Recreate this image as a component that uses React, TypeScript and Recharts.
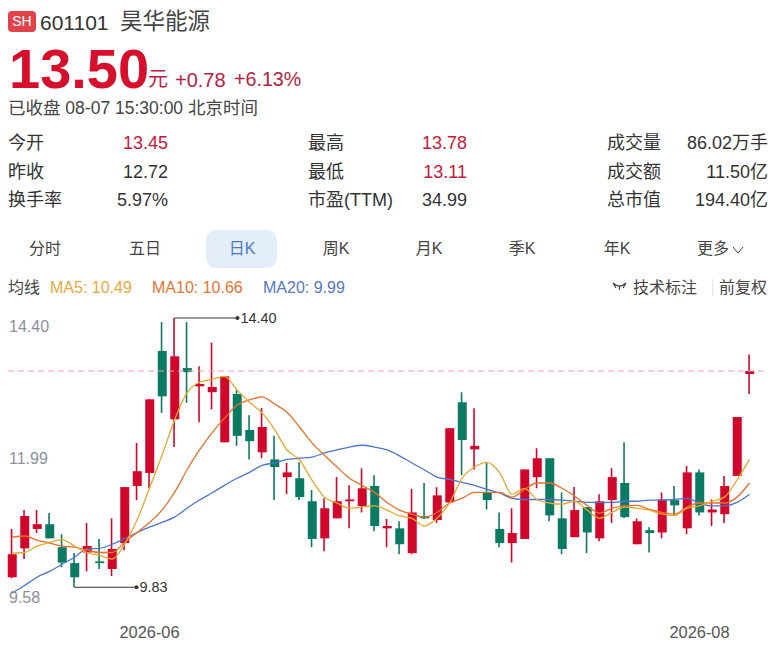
import { Bar, Cell, ComposedChart, Line, ReferenceDot, ReferenceLine, XAxis, YAxis } from 'recharts';

const FONT = '"Liberation Sans", "Noto Sans CJK SC", sans-serif';
const RED = '#D0062A';
const GREEN = '#0B7A63';

const dates = [
  '2026-05-15', '2026-05-18', '2026-05-19', '2026-05-20', '2026-05-21', '2026-05-22', '2026-05-25', '2026-05-26', '2026-05-27', '2026-05-28', '2026-05-29',
  '2026-06-01', '2026-06-02', '2026-06-03', '2026-06-04', '2026-06-05', '2026-06-08', '2026-06-09', '2026-06-10', '2026-06-11', '2026-06-12',
  '2026-06-15', '2026-06-16', '2026-06-17', '2026-06-18', '2026-06-22', '2026-06-23', '2026-06-24', '2026-06-25', '2026-06-26', '2026-06-29', '2026-06-30',
  '2026-07-01', '2026-07-02', '2026-07-03', '2026-07-06', '2026-07-07', '2026-07-08', '2026-07-09', '2026-07-10', '2026-07-13', '2026-07-14', '2026-07-15', '2026-07-16', '2026-07-17',
  '2026-07-20', '2026-07-21', '2026-07-22', '2026-07-23', '2026-07-24', '2026-07-27', '2026-07-28', '2026-07-29', '2026-07-30', '2026-07-31',
  '2026-08-03', '2026-08-04', '2026-08-05', '2026-08-06', '2026-08-07',
];
const opens = [
  10.0, 10.49, 10.82, 10.9, 10.51, 10.24, 10.42, 10.27, 10.14, 10.58, 11.55, 11.77, 13.84, 12.68, 13.55, 13.24, 13.14, 12.29, 13.11, 12.5,
  12.12, 12.0, 11.7, 11.68, 11.29, 10.66, 11.0, 11.29, 11.21, 11.55, 10.83, 10.83, 10.41, 11.04, 10.97, 11.27, 12.97, 12.17, 11.44, 10.82,
  10.58, 10.65, 11.7, 12.02, 11.0, 10.68, 11.19, 10.66, 11.31, 11.6, 10.56, 10.8, 10.76, 11.31, 10.83, 11.78, 11.1, 11.07, 11.72, 13.45,
];
const closes = [
  10.39, 11.04, 10.9, 10.66, 10.25, 10.0, 10.53, 10.24, 10.48, 11.53, 11.8, 13.02, 13.07, 13.75, 13.48, 13.28, 13.23, 13.41, 12.4, 12.31,
  12.55, 11.87, 11.78, 11.36, 10.65, 11.17, 11.29, 11.32, 11.51, 10.87, 10.87, 10.56, 11.1, 11.0, 11.39, 12.53, 12.33, 12.23, 11.31, 10.58,
  10.75, 11.83, 12.02, 11.05, 10.48, 11.14, 10.76, 11.29, 11.7, 11.02, 10.95, 10.75, 11.32, 11.22, 11.78, 11.1, 11.15, 11.55, 12.72, 13.5,
];
const highs = [
  10.82, 11.14, 11.14, 11.09, 10.73, 10.41, 10.92, 10.65, 11.0, 11.53, 12.28, 13.02, 14.33, 14.4, 14.33, 13.58, 13.98, 13.41, 13.18, 12.75,
  12.87, 12.4, 11.94, 11.95, 11.48, 11.34, 11.7, 11.56, 11.85, 11.73, 10.99, 10.95, 11.5, 11.6, 11.53, 12.53, 13.14, 12.87, 11.95, 11.1,
  11.17, 11.83, 12.19, 12.02, 11.44, 11.53, 11.19, 11.41, 11.85, 12.29, 11.0, 10.85, 11.44, 11.55, 11.89, 11.83, 11.32, 11.72, 12.72, 13.78,
];
const lows = [
  9.98, 10.31, 10.75, 10.66, 10.17, 9.83, 10.1, 10.14, 10.02, 10.46, 11.31, 11.51, 12.79, 12.21, 12.96, 12.63, 12.85, 12.29, 12.23, 12.0,
  12.02, 11.31, 11.41, 11.31, 10.51, 10.44, 11.0, 10.83, 11.1, 10.78, 10.51, 10.39, 10.39, 10.99, 10.92, 11.27, 11.73, 11.83, 11.15, 10.51,
  10.25, 10.65, 11.51, 10.95, 10.39, 10.68, 10.41, 10.61, 10.92, 11.0, 10.56, 10.42, 10.66, 11.05, 10.73, 11.05, 10.87, 10.92, 11.72, 13.11,
];
const ma5 = [
  10.41, 10.42, 10.53, 10.59, 10.64, 10.53, 10.42, 10.37, 10.31, 10.56, 10.97, 11.51, 12.07, 12.67, 13.13, 13.31, 13.36, 13.41, 13.18, 12.97,
  12.79, 12.51, 12.16, 11.99, 11.65, 11.36, 11.26, 11.17, 11.19, 11.21, 11.14, 11.04, 11.0, 10.87, 11.0, 11.26, 11.68, 11.87, 11.95, 11.78,
  11.41, 11.51, 11.32, 11.26, 11.24, 11.29, 11.14, 11.0, 11.1, 11.19, 11.17, 11.14, 11.07, 11.05, 11.17, 11.21, 11.29, 11.36, 11.65, 12.0,
];
const ma10 = [
  10.68, 10.7, 10.63, 10.58, 10.53, 10.51, 10.46, 10.42, 10.42, 10.59, 10.76, 10.93, 11.14, 11.44, 11.82, 12.16, 12.45, 12.7, 12.92, 13.01,
  13.06, 12.94, 12.8, 12.55, 12.28, 12.07, 11.87, 11.68, 11.56, 11.44, 11.27, 11.14, 11.07, 11.02, 11.1, 11.26, 11.34, 11.44, 11.44, 11.44,
  11.36, 11.49, 11.6, 11.6, 11.51, 11.38, 11.22, 11.09, 11.17, 11.21, 11.22, 11.15, 11.1, 11.07, 11.19, 11.26, 11.26, 11.26, 11.36, 11.6,
];
const ma20 = [
  9.73, 9.86, 10.0, 10.1, 10.22, 10.34, 10.48, 10.49, 10.56, 10.65, 10.76, 10.85, 10.93, 11.02, 11.17, 11.31, 11.43, 11.56, 11.68, 11.78,
  11.9, 11.94, 12.0, 12.02, 12.04, 12.11, 12.16, 12.21, 12.24, 12.21, 12.16, 12.06, 11.94, 11.82, 11.7, 11.66, 11.61, 11.56, 11.49, 11.43,
  11.34, 11.32, 11.32, 11.32, 11.31, 11.29, 11.27, 11.27, 11.27, 11.29, 11.29, 11.31, 11.31, 11.32, 11.34, 11.26, 11.21, 11.21, 11.27, 11.41,
];
const priceTicks = [9.58, 11.99, 14.4];
const dateTicks = ['2026-06-01', '2026-08-03'];
const lastClose = 13.5;

const statRows = [
  [['今开', '13.45', true], ['最高', '13.78', true], ['成交量', '86.02万手', false]],
  [['昨收', '12.72', false], ['最低', '13.11', true], ['成交额', '11.50亿', false]],
  [['换手率', '5.97%', false], ['市盈(TTM)', '34.99', false], ['总市值', '194.40亿', false]],
] as const;
const periods = [['分时', 45], ['五日', 145], ['日K', 242], ['周K', 336], ['月K', 429], ['季K', 522], ['年K', 617]] as const;
const maLegend = [['MA5: 10.49', 50, '#E8A93C'], ['MA10: 10.66', 152, '#E8742E'], ['MA20: 9.99', 263, '#5577CC']] as const;

const rows = dates.map((date, i) => ({
  date,
  wick: [lows[i], highs[i]],
  body: [Math.min(opens[i], closes[i]), Math.max(opens[i], closes[i])],
  up: closes[i] >= opens[i],
  ma5: ma5[i],
  ma10: ma10[i],
  ma20: ma20[i],
}));

function T({ x, y, size = 18, color = '#333', align = 'left', weight = 400, children }: any) {
  const pos = align === 'right' ? { right: 774 - x } : align === 'center' ? { left: x, transform: 'translate(-50%, -50%)' } : { left: x };
  return (
    <span
      style={{
        position: 'absolute',
        top: y,
        transform: 'translateY(-50%)',
        fontSize: size,
        color,
        fontWeight: weight,
        whiteSpace: 'nowrap',
        lineHeight: 1,
        ...pos,
      }}
    >
      {children}
    </span>
  );
}

function PriceTick({ y, payload }: any) {
  const v = payload.value;
  const dy = v === 14.4 ? 14 : v === 9.58 ? 1 : 4;
  return (
    <text x={9} y={y + dy} fontSize={16} fill="#8C909A" fontFamily={FONT}>
      {v.toFixed(2)}
    </text>
  );
}

function DashedLast({ x1, y1, x2, y2 }: any) {
  return <line x1={x1 + 2.25} y1={y1} x2={x2} y2={y2} stroke="#EBA0A4" strokeDasharray="6 4" strokeWidth={1} />;
}

function callout(length: number, label: string) {
  return ({ cx, cy }: any) => (
    <g>
      <line x1={cx} y1={cy} x2={cx + length} y2={cy} stroke="#333" strokeWidth={1} />
      <circle cx={cx + length} cy={cy} r={2} fill="#333" />
      <text x={cx + length + 3} y={cy + 4.5} fontSize={14.4} fill="#333" fontFamily={FONT}>
        {label}
      </text>
    </g>
  );
}

export default function App() {
  return (
    <div style={{ position: 'absolute', left: 0, top: 0, width: 774, height: 654, overflow: 'hidden', background: '#fff', fontFamily: FONT }}>
      <div
        style={{
          position: 'absolute',
          left: 8,
          top: 11,
          width: 28,
          height: 21,
          borderRadius: 4,
          background: '#E2434B',
          color: '#fff',
          fontSize: 14,
          lineHeight: '21px',
          textAlign: 'center',
        }}
      >
        SH
      </div>
      <T x={40} y={22} size={21}>601101</T>
      <T x={120} y={22} size={22.5} color="#444">昊华能源</T>
      <T x={9} y={69} size={56} color="#D6102C" weight={700}>13.50</T>
      <T x={148} y={79} size={20} color="#B8213F">元</T>
      <T x={175} y={80} size={20} color="#B8213F">+0.78</T>
      <T x={234} y={80} size={19.7} color="#B8213F">+6.13%</T>
      <T x={8} y={108.5} size={17.5} color="#444">已收盘 08-07 15:30:00 北京时间</T>

      {statRows.map((row, r) =>
        row.map(([label, value, hot], c) => {
          const y = [143, 172, 200][r];
          return (
            <div key={label}>
              <T x={[8, 308, 607][c]} y={y}>{label}</T>
              <T x={[168, 467, 768][c]} y={y} align="right" color={hot ? '#C8183A' : '#333'}>{value}</T>
            </div>
          );
        }),
      )}

      <div style={{ position: 'absolute', left: 206, top: 230, width: 71, height: 38, borderRadius: 10, background: '#E4EEFA' }} />
      {periods.map(([label, x]) => (
        <T key={label} x={x} y={249} size={16} align="center" color={label === '日K' ? '#4E78C8' : '#444'}>{label}</T>
      ))}
      <T x={697} y={249} size={16} color="#444">更多</T>
      <svg style={{ position: 'absolute', left: 731, top: 245 }} width={14} height={10}>
        <polyline points="2,2 7,8 12,2" fill="none" stroke="#444" strokeWidth={1} />
      </svg>

      <T x={8} y={288} size={16} color="#444">均线</T>
      {maLegend.map(([label, x, color]) => (
        <T key={label} x={x} y={288} size={16} color={color}>{label}</T>
      ))}
      <svg style={{ position: 'absolute', left: 612, top: 281 }} width={15} height={12}>
        <path d="M1,2 Q7.5,8 14,2 M7.5,5 L7.5,9 M1,2 L4,7 M14,2 L11,7" fill="none" stroke="#444" strokeWidth={1.2} />
      </svg>
      <T x={633} y={288} size={16} color="#444">技术标注</T>
      <div style={{ position: 'absolute', left: 712, top: 279, width: 1, height: 17, background: '#E6E6E6' }} />
      <T x={719} y={288} size={16} color="#444">前复权</T>

      <div style={{ position: 'absolute', left: 0, top: 300 }}>
        <ComposedChart width={774} height={354} data={rows} margin={{ top: 18, right: 6, bottom: 22, left: 5.75 }}>
          <XAxis xAxisId="wick" dataKey="date" hide padding={{ left: 0, right: 12.25 }} />
          <XAxis
            xAxisId="body"
            dataKey="date"
            height={30}
            padding={{ left: 0, right: 12.25 }}
            axisLine={false}
            tickLine={false}
            ticks={dateTicks}
            interval={0}
            tickMargin={18}
            tickFormatter={(d: string) => d.slice(0, 7)}
            tick={{ fontSize: 16.4, fill: '#555', fontFamily: FONT }}
          />
          <YAxis
            domain={[9.58, 14.4]}
            ticks={priceTicks}
            interval={0}
            width={1}
            mirror
            axisLine={false}
            tickLine={false}
            tick={<PriceTick />}
          />
          <ReferenceLine xAxisId="body" y={lastClose} shape={<DashedLast />} />
          <Bar xAxisId="wick" dataKey="wick" barSize={1.6} isAnimationActive={false}>
            {rows.map((r) => (
              <Cell key={r.date} fill={r.up ? RED : GREEN} />
            ))}
          </Bar>
          <Bar xAxisId="body" dataKey="body" barSize={9} isAnimationActive={false}>
            {rows.map((r) => (
              <Cell key={r.date} fill={r.up ? RED : GREEN} />
            ))}
          </Bar>
          <Line xAxisId="body" type="monotone" dataKey="ma20" stroke="#4F74CE" strokeWidth={1.3} dot={false} isAnimationActive={false} />
          <Line xAxisId="body" type="monotone" dataKey="ma10" stroke="#E8702A" strokeWidth={1.3} dot={false} isAnimationActive={false} />
          <Line xAxisId="body" type="monotone" dataKey="ma5" stroke="#E9A72E" strokeWidth={1.3} dot={false} isAnimationActive={false} />
          <ReferenceDot xAxisId="body" x={dates[13]} y={14.4} shape={callout(63, '14.40')} />
          <ReferenceDot xAxisId="body" x={dates[5]} y={9.83} shape={callout(62, '9.83')} />
        </ComposedChart>
      </div>
    </div>
  );
}
